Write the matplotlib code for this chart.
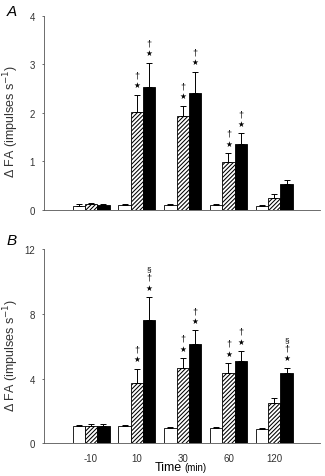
import matplotlib
matplotlib.use("Agg")
import matplotlib.pyplot as plt
import numpy as np

plt.rcParams['font.family'] = ['Liberation Sans', 'DejaVu Sans']
plt.rcParams['hatch.linewidth'] = 0.75

times = ['-10', '10', '30', '60', '120']

# Panel A
a_white = [0.09, 0.10, 0.10, 0.10, 0.08]
a_white_err = [0.03, 0.03, 0.02, 0.02, 0.02]
a_hatch = [0.13, 2.03, 1.93, 0.98, 0.25]
a_hatch_err = [0.02, 0.35, 0.22, 0.19, 0.07]
a_black = [0.10, 2.54, 2.41, 1.37, 0.53]
a_black_err = [0.02, 0.50, 0.44, 0.21, 0.09]
a_marks = {(1, 1): ['*', '†'], (1, 2): ['*', '†'],
           (2, 1): ['*', '†'], (2, 2): ['*', '†'],
           (3, 1): ['*', '†'], (3, 2): ['*', '†']}

# Panel B
b_white = [1.05, 1.05, 0.95, 0.95, 0.88]
b_white_err = [0.08, 0.10, 0.06, 0.07, 0.05]
b_hatch = [1.05, 3.73, 4.66, 4.35, 2.51]
b_hatch_err = [0.12, 0.87, 0.60, 0.60, 0.30]
b_black = [1.05, 7.64, 6.14, 5.11, 4.35]
b_black_err = [0.15, 1.38, 0.83, 0.58, 0.30]
b_marks = {(1, 1): ['*', '†'], (1, 2): ['*', '†', '§'],
           (2, 1): ['*', '†'], (2, 2): ['*', '†'],
           (3, 1): ['*', '†'], (3, 2): ['*', '†'],
           (4, 2): ['*', '†', '§']}

fig = plt.figure(figsize=(3.25, 4.77), dpi=100)
axA = fig.add_axes([0.135, 0.5577, 0.850, 0.4067])
axB = fig.add_axes([0.135, 0.0686, 0.850, 0.4073])

w = 0.27
x = np.arange(len(times))

def draw(ax, wv, we, hv, he, bv, be, marks, ymax, yticks):
    series = [(wv, we, dict(color='white', edgecolor='black')),
              (hv, he, dict(color='white', edgecolor='black', hatch='////////')),
              (bv, be, dict(color='black', edgecolor='black'))]
    for k, (vals, errs, style) in enumerate(series):
        xs = x + (k - 1) * w
        ax.bar(xs, vals, width=w, linewidth=0.6, zorder=2, **style)
        ax.errorbar(xs, vals, yerr=[np.zeros(len(vals)), errs], fmt='none',
                    ecolor='black', elinewidth=0.7, capsize=2.5, capthick=0.7, zorder=3)
        for i in range(len(vals)):
            if (i, k) in marks:
                top = vals[i] + errs[i]
                off = 4
                for m in marks[(i, k)]:
                    if m == '*':
                        ax.annotate('★', (xs[i], top), xytext=(0, off), textcoords='offset points',
                                    ha='center', va='bottom', fontsize=5.5,
                                    family=['DejaVu Sans'])
                        off += 7
                    elif m == '†':
                        ax.annotate('†', (xs[i], top), xytext=(0, off), textcoords='offset points',
                                    ha='center', va='bottom', fontsize=6.5)
                        off += 7
                    else:
                        ax.annotate('§', (xs[i], top), xytext=(0, off), textcoords='offset points',
                                    ha='center', va='bottom', fontsize=6)
                        off += 7
    ax.set_xlim(-1.03, 5.0)
    ax.set_ylim(0, ymax)
    ax.set_yticks(yticks)
    ax.set_yticklabels([str(t) for t in yticks], fontsize=7, color='#333333')
    for s in ['top', 'right']:
        ax.spines[s].set_visible(False)
    ax.spines['left'].set_color('#555555')
    ax.spines['bottom'].set_color('#555555')
    ax.spines['left'].set_linewidth(0.6)
    ax.spines['bottom'].set_linewidth(0.6)
    ax.tick_params(axis='y', length=1.5, width=0.5, pad=5, colors='#333333')
    ax.set_ylabel('Δ FA (impulses s$^{-1}$)', fontsize=9, color='#333333')
    ax.yaxis.set_label_coords(-0.082, 0.46)

draw(axA, a_white, a_white_err, a_hatch, a_hatch_err, a_black, a_black_err, a_marks, 4, [0, 1, 2, 3, 4])
axA.set_xticks([])

draw(axB, b_white, b_white_err, b_hatch, b_hatch_err, b_black, b_black_err, b_marks, 12, [0, 4, 8, 12])
axB.set_xticks(x)
axB.set_xticklabels(times, fontsize=7, color='#333333')
axB.tick_params(axis='x', length=0, pad=7)

fig.text(0.02, 0.975, 'A', fontsize=11, style='italic', ha='left', va='center')
fig.text(0.02, 0.495, 'B', fontsize=11, style='italic', ha='left', va='center')
fig.text(0.558, 0.018, 'Time', fontsize=9, ha='right', va='center')
fig.text(0.568, 0.018, '(min)', fontsize=7, ha='left', va='center')

fig.savefig('out.png', dpi=100)
